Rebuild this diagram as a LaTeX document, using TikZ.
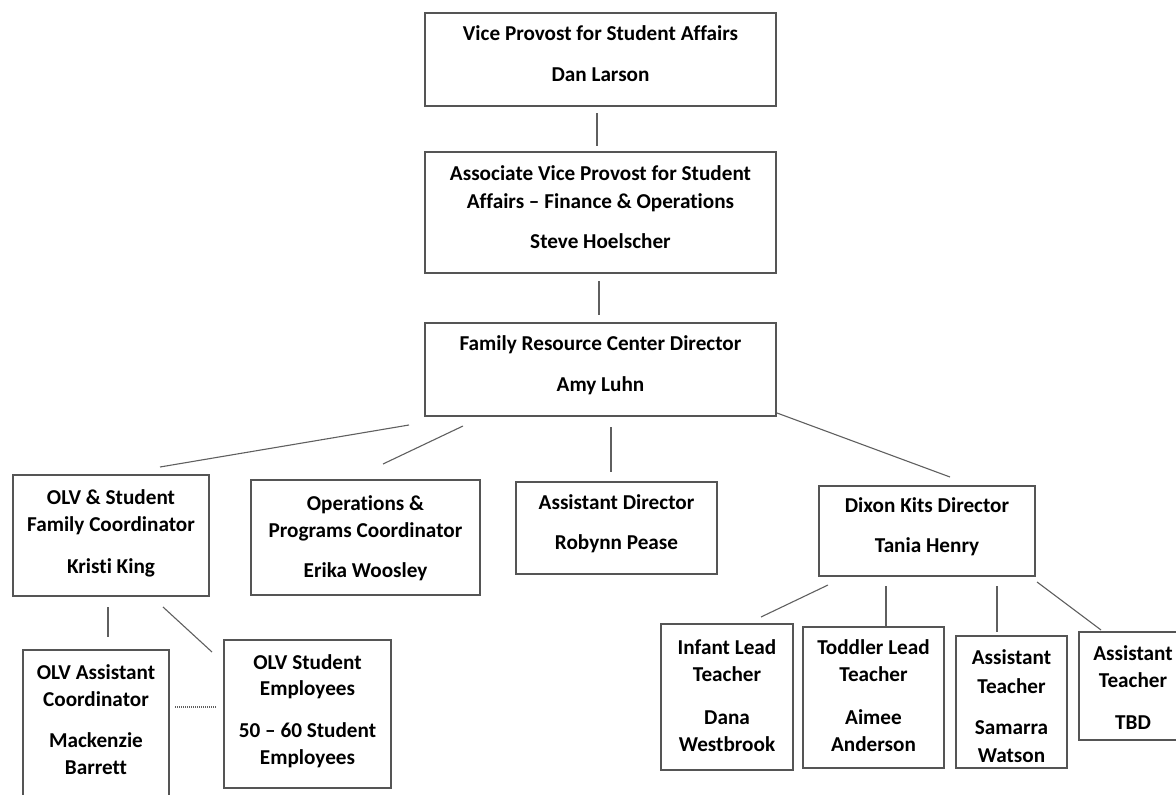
\documentclass[tikz,border=0pt]{standalone}
\usepackage{fontspec}
\setmainfont{Carlito}[Ligatures=NoCommon]
\definecolor{boxc}{RGB}{85,85,85}
\definecolor{linec}{RGB}{95,95,95}
\tikzset{
  box/.style={draw=boxc, line width=1.3pt, inner sep=0pt, rectangle},
  lbl/.style={anchor=base, inner sep=0pt, font=\fontsize{21.2}{25}\selectfont\bfseries, text=black},
  link/.style={draw=linec, line width=1.1pt},
  dotlink/.style={draw=linec, line width=1.1pt, dash pattern=on 1pt off 1pt},
}
\newcommand\orgbox[5]{\node[box, minimum width={(#4-#2)*1pt}, minimum height={(#5-#3)*1pt}] (#1) at ({(#2+#4)/2},{(#3+#5)/2}) {};}
\begin{document}
\begin{tikzpicture}[x=1pt,y=-1pt]
\useasboundingbox (0,0) rectangle (1176,795);
\clip (0,0) rectangle (1176,795);
% boxes
\orgbox{vp}{425}{13}{776}{106}
\orgbox{avp}{425}{152}{776}{273}
\orgbox{frc}{425}{323}{776}{416}
\orgbox{olvsf}{13}{475}{209}{596}
\orgbox{ops}{251}{480}{480}{595}
\orgbox{ad}{516}{482}{717}{574}
\orgbox{dix}{819}{486}{1035}{576}
\orgbox{olva}{23}{650}{169}{820}
\orgbox{olvs}{224}{640}{391}{788}
\orgbox{inf}{661}{624}{793}{770}
\orgbox{tod}{803}{627}{944}{768}
\orgbox{sam}{956}{636}{1067}{768}
\orgbox{tbd}{1079}{632}{1187}{740}
% texts
\node[lbl] (vp1) at (600.5,40) {Vice Provost for Student Affairs};
\node[lbl] (vp2) at (600.5,81) {Dan Larson};
\node[lbl] (avp1) at (600.5,180) {Associate Vice Provost for Student};
\node[lbl] (avp2) at (600.5,208) {Affairs – Finance \& Operations};
\node[lbl] (avp3) at (600.5,248) {Steve Hoelscher};
\node[lbl] (frc1) at (600.5,350) {Family Resource Center Director};
\node[lbl] (frc2) at (600.5,391) {Amy Luhn};
\node[lbl] (olvsf1) at (111,504) {OLV \& Student};
\node[lbl] (olvsf2) at (111,531) {Family Coordinator};
\node[lbl] (olvsf3) at (111,573) {Kristi King};
\node[lbl] (ops1) at (365.5,510) {Operations \&};
\node[lbl] (ops2) at (365.5,537) {Programs Coordinator};
\node[lbl] (ops3) at (365.5,577) {Erika Woosley};
\node[lbl] (ad1) at (616.5,509) {Assistant Director};
\node[lbl] (ad2) at (616.5,549) {Robynn Pease};
\node[lbl] (dix1) at (927,512) {Dixon Kits Director};
\node[lbl] (dix2) at (927,552) {Tania Henry};
\node[lbl] (olva1) at (96,679) {OLV Assistant};
\node[lbl] (olva2) at (96,706) {Coordinator};
\node[lbl] (olva3) at (96,747) {Mackenzie};
\node[lbl] (olva4) at (96,774) {Barrett};
\node[lbl] (olvs1) at (307.5,669) {OLV Student};
\node[lbl] (olvs2) at (307.5,695) {Employees};
\node[lbl] (olvs3) at (307.5,737) {50 – 60 Student};
\node[lbl] (olvs4) at (307.5,764) {Employees};
\node[lbl] (inf1) at (727,654) {Infant Lead};
\node[lbl] (inf2) at (727,681) {Teacher};
\node[lbl] (inf3) at (727,724) {Dana};
\node[lbl] (inf4) at (727,751) {Westbrook};
\node[lbl] (tod1) at (873.5,654) {Toddler Lead};
\node[lbl] (tod2) at (873.5,681) {Teacher};
\node[lbl] (tod3) at (873.5,724) {Aimee};
\node[lbl] (tod4) at (873.5,751) {Anderson};
\node[lbl] (sam1) at (1011.5,664) {Assistant};
\node[lbl] (sam2) at (1011.5,693) {Teacher};
\node[lbl] (sam3) at (1011.5,734) {Samarra};
\node[lbl] (sam4) at (1011.5,762) {Watson};
\node[lbl] (tbd1) at (1133,660) {Assistant};
\node[lbl] (tbd2) at (1133,687) {Teacher};
\node[lbl] (tbd3) at (1133,729) {TBD};
% connector end points
\coordinate (c1a) at (597,113); \coordinate (c1b) at (597,146);
\coordinate (c2a) at (599,281); \coordinate (c2b) at (599,315);
\coordinate (c3a) at (409,425); \coordinate (c3b) at (160,467);
\coordinate (c4a) at (463,426); \coordinate (c4b) at (383,464);
\coordinate (c5a) at (611,427); \coordinate (c5b) at (611,472);
\coordinate (c6a) at (777,413); \coordinate (c6b) at (950,477);
\coordinate (c7a) at (108,607); \coordinate (c7b) at (108,637);
\coordinate (c8a) at (163,607); \coordinate (c8b) at (212,652);
\coordinate (c9a) at (175,707); \coordinate (c9b) at (217,707);
\coordinate (c10a) at (828,585); \coordinate (c10b) at (761,617);
\coordinate (c11a) at (886,586); \coordinate (c11b) at (886,626);
\coordinate (c12a) at (997,586); \coordinate (c12b) at (997,632);
\coordinate (c13a) at (1037,582); \coordinate (c13b) at (1101,630);
% connectors
\draw[link] (c1a) -- (c1b);
\draw[link] (c2a) -- (c2b);
\draw[link] (c3a) -- (c3b);
\draw[link] (c4a) -- (c4b);
\draw[link] (c5a) -- (c5b);
\draw[link] (c6a) -- (c6b);
\draw[link] (c7a) -- (c7b);
\draw[link] (c8a) -- (c8b);
\draw[dotlink] (c9a) -- (c9b);
\draw[link] (c10a) -- (c10b);
\draw[link] (c11a) -- (c11b);
\draw[link] (c12a) -- (c12b);
\draw[link] (c13a) -- (c13b);
\end{tikzpicture}
\end{document}
